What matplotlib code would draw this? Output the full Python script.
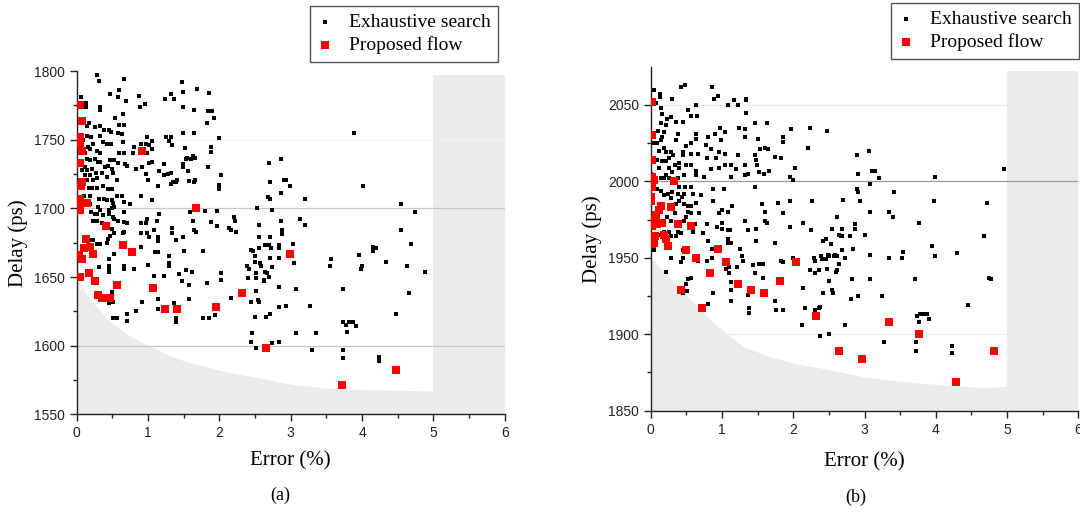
import matplotlib
matplotlib.use("Agg")
import matplotlib.pyplot as plt
import numpy as np

# ---------------- data ----------------
# panel (a)
exh_a = [
    (0.28, 1797), (0.31, 1793), (0.67, 1794), (0.60, 1786), (0.47, 1783), (0.33, 1774), (0.33, 1772),
    (0.06, 1781), (0.13, 1777), (0.13, 1774), (0.54, 1766), (0.65, 1769), (0.67, 1761), (0.59, 1761),
    (0.88, 1782), (0.96, 1776), (0.89, 1774), (0.69, 1778), (0.58, 1781), (1.24, 1780), (1.32, 1783),
    (1.37, 1780), (1.48, 1792), (1.49, 1785), (1.69, 1787), (1.86, 1784), (1.65, 1772), (1.49, 1774),
    (1.82, 1762), (1.93, 1766), (1.84, 1771), (1.89, 1771),
    (0.17, 1762), (0.15, 1760), (0.25, 1759), (0.32, 1760), (0.38, 1757), (0.45, 1757), (0.48, 1756),
    (0.33, 1753), (0.15, 1753), (0.20, 1752), (0.09, 1750), (0.23, 1747), (0.37, 1748), (0.42, 1747),
    (0.48, 1747), (0.58, 1755), (0.63, 1754), (0.65, 1748), (0.16, 1745), (0.18, 1743), (0.29, 1742),
    (0.32, 1740), (0.11, 1740), (0.60, 1740), (0.66, 1740), (0.47, 1735), (0.53, 1735), (0.58, 1733),
    (0.68, 1732), (0.70, 1731), (0.14, 1736), (0.18, 1735), (0.25, 1736), (0.30, 1734), (0.33, 1734),
    (0.39, 1730), (0.44, 1731), (0.11, 1730), (0.08, 1728), (0.15, 1728), (0.22, 1729), (0.27, 1726),
    (0.36, 1726), (0.49, 1729), (0.51, 1726), (0.11, 1724), (0.18, 1724), (0.14, 1721), (0.23, 1721),
    (0.29, 1722), (0.42, 1723), (0.56, 1721), (0.17, 1715), (0.21, 1715), (0.28, 1715), (0.37, 1716),
    (0.44, 1714), (0.49, 1714), (0.10, 1709), (0.18, 1709), (0.31, 1707), (0.38, 1707), (0.43, 1706),
    (0.49, 1706), (0.51, 1704), (0.57, 1709), (0.63, 1709), (0.67, 1705), (0.75, 1703), (0.18, 1703),
    (0.30, 1701), (0.32, 1699), (0.45, 1699), (0.50, 1700), (0.52, 1701), (0.20, 1697), (0.25, 1696),
    (0.29, 1696), (0.37, 1695), (0.46, 1696), (0.51, 1694), (0.66, 1697), (0.53, 1692), (0.58, 1691),
    (0.67, 1690), (0.71, 1689), (0.23, 1691), (0.29, 1691), (0.36, 1689), (0.49, 1685), (0.53, 1682),
    (0.66, 1683), (0.65, 1682), (0.47, 1680), (0.20, 1677), (0.23, 1677), (0.44, 1678), (0.42, 1675),
    (0.28, 1674), (0.32, 1674), (0.53, 1667), (0.46, 1663), (0.46, 1658), (0.46, 1656), (0.45, 1654),
    (0.31, 1657), (0.67, 1658), (0.67, 1656), (0.81, 1656), (0.49, 1639), (0.51, 1632), (0.46, 1631),
    (0.51, 1620), (0.56, 1620), (0.70, 1623), (0.71, 1618), (0.83, 1625),
    (0.90, 1747), (0.97, 1747), (1.01, 1746), (1.05, 1743), (0.98, 1752), (1.05, 1749), (0.92, 1740),
    (0.98, 1740), (0.81, 1745), (0.79, 1740), (0.83, 1729), (0.91, 1730), (1.01, 1733), (1.06, 1734),
    (0.97, 1725), (1.00, 1721), (1.22, 1732), (1.15, 1727), (1.14, 1716), (1.23, 1724), (1.28, 1725),
    (1.32, 1726), (1.32, 1718), (1.35, 1719), (1.25, 1752), (1.32, 1752), (1.30, 1749), (1.34, 1746),
    (1.49, 1755), (1.52, 1744), (1.49, 1732), (1.49, 1730), (1.53, 1736), (1.55, 1737), (1.60, 1736),
    (1.63, 1738), (1.66, 1737), (1.56, 1727), (1.66, 1721), (1.57, 1720), (1.65, 1719), (1.41, 1721),
    (1.39, 1719), (1.65, 1755), (1.84, 1730), (1.88, 1745), (1.88, 1741), (1.99, 1751), (2.03, 1724),
    (2.00, 1717), (2.00, 1714), (1.05, 1706), (0.90, 1709), (0.98, 1692), (0.97, 1689), (0.98, 1682),
    (0.90, 1682), (0.90, 1689), (1.01, 1679), (1.09, 1684), (1.13, 1691), (1.15, 1696), (1.14, 1679),
    (1.14, 1676), (1.10, 1668), (1.14, 1668), (0.90, 1672), (1.00, 1659), (1.08, 1651), (1.34, 1686),
    (1.34, 1682), (1.39, 1677), (1.49, 1679), (1.50, 1669), (1.29, 1665), (1.30, 1660), (1.30, 1658),
    (1.23, 1651), (1.44, 1652), (1.47, 1647), (1.53, 1655), (1.61, 1654), (1.59, 1697), (1.63, 1691),
    (1.65, 1684), (1.67, 1683), (1.77, 1669), (1.80, 1698), (1.88, 1690), (1.97, 1698), (1.97, 1687),
    (1.58, 1644), (1.57, 1634), (1.14, 1634), (1.14, 1627), (1.37, 1631), (1.39, 1620), (1.39, 1617),
    (1.77, 1620), (1.86, 1620), (1.82, 1646), (1.94, 1622), (2.02, 1653), (2.03, 1648), (0.91, 1632),
    (2.21, 1694), (2.22, 1691), (2.24, 1683), (2.14, 1686), (2.16, 1684), (2.17, 1635), (2.53, 1700),
    (2.55, 1688), (2.55, 1679), (2.69, 1733), (2.71, 1719), (2.68, 1708), (2.71, 1707), (2.74, 1699),
    (2.87, 1736), (2.87, 1711), (2.91, 1721), (2.93, 1721), (2.99, 1716), (3.20, 1707), (3.13, 1692),
    (3.20, 1688), (3.03, 1674), (3.05, 1660), (3.08, 1641), (3.08, 1609), (3.27, 1629), (3.30, 1597),
    (2.86, 1691), (2.88, 1684), (2.88, 1681), (2.84, 1673), (2.84, 1671), (2.84, 1664), (2.71, 1679),
    (2.69, 1673), (2.64, 1673), (2.72, 1671), (2.71, 1664), (2.74, 1657), (2.56, 1671), (2.47, 1669),
    (2.44, 1670), (2.50, 1665), (2.50, 1661), (2.57, 1660), (2.59, 1658), (2.39, 1658), (2.42, 1656),
    (2.52, 1653), (2.64, 1654), (2.67, 1653), (2.40, 1649), (2.52, 1649), (2.62, 1648), (2.69, 1650),
    (2.62, 1647), (2.84, 1643), (2.52, 1640), (2.54, 1633), (2.56, 1632), (2.44, 1632), (2.50, 1621),
    (2.66, 1621), (2.71, 1623), (2.83, 1628), (2.93, 1629), (2.46, 1609), (2.44, 1603), (2.52, 1598),
    (2.74, 1602), (2.84, 1603), (3.73, 1641), (3.36, 1609), (3.56, 1663), (3.55, 1658), (3.96, 1666),
    (4.00, 1658), (3.99, 1656), (3.89, 1755), (4.02, 1716), (4.15, 1672), (4.19, 1671), (4.16, 1669),
    (4.33, 1661), (4.54, 1703), (4.55, 1684), (4.68, 1674), (4.74, 1697), (4.63, 1658), (4.66, 1638),
    (4.88, 1654), (4.47, 1623), (3.74, 1617), (3.78, 1615), (3.82, 1617), (3.88, 1617), (3.79, 1610),
    (3.92, 1614), (3.73, 1597), (3.73, 1591), (4.24, 1592), (4.24, 1589),
]
prop_a = [
    (0.05, 1775), (0.08, 1764), (0.05, 1752), (0.04, 1747), (0.07, 1742), (0.04, 1733), (0.07, 1719),
    (0.06, 1716), (0.04, 1707), (0.04, 1703), (0.04, 1699), (0.14, 1704), (0.91, 1742), (1.67, 1700),
    (0.41, 1687), (0.13, 1678), (0.10, 1671), (0.19, 1672), (0.23, 1667), (0.03, 1666), (0.08, 1663),
    (0.05, 1650), (0.17, 1653), (0.26, 1647), (0.30, 1637), (0.35, 1635), (0.47, 1635), (0.56, 1644),
    (0.65, 1673), (0.78, 1668), (1.07, 1642), (1.24, 1627), (1.40, 1627), (1.95, 1628), (2.32, 1638),
    (2.65, 1598), (2.99, 1667), (3.72, 1571), (4.48, 1582),
]
bound_a_x = [0, 0.05, 0.1, 0.25, 0.5, 0.75, 1.0, 1.25, 1.5, 2.0, 2.5, 3.0, 3.5, 4.0, 4.5, 5.0]
bound_a_y = [1650, 1645, 1640, 1630, 1616, 1607, 1600, 1594, 1589, 1582, 1577, 1572, 1569, 1568,
             1567.5, 1567]

# panel (b)
exh_b = [
    (0.05, 2060), (0.13, 2057), (0.13, 2055), (0.08, 2051), (0.15, 2048), (0.16, 2044), (0.30, 2054),
    (0.43, 2062), (0.48, 2063), (0.52, 2047), (0.57, 2043), (0.64, 2050), (0.65, 2043), (0.86, 2062),
    (0.89, 2054), (0.95, 2056), (1.09, 2050), (1.17, 2053), (1.23, 2050), (1.33, 2054), (1.34, 2053),
    (1.33, 2045), (1.24, 2035), (1.32, 2034), (1.32, 2029), (1.46, 2038), (1.63, 2038), (1.97, 2034),
    (2.23, 2035), (2.47, 2033), (1.85, 2029), (1.85, 2026), (2.20, 2022), (1.50, 2028), (1.53, 2021),
    (1.61, 2022), (1.64, 2021), (1.75, 2016), (1.83, 2015), (1.46, 2017), (1.48, 2014), (1.49, 2011),
    (1.52, 2006), (1.59, 2005), (1.66, 2007), (1.37, 2005), (1.32, 2004), (1.32, 2011), (1.23, 2017),
    (1.19, 2008), (1.13, 2011), (1.13, 2003), (1.04, 2011), (1.04, 2018), (0.96, 2019), (0.98, 2027),
    (0.97, 2035), (1.04, 2032), (0.90, 2031), (0.80, 2029), (0.77, 2024), (0.84, 2021), (0.79, 2015),
    (0.91, 2015), (0.96, 2009), (0.85, 2008), (0.75, 2003), (0.64, 2031), (0.64, 2028), (0.57, 2025),
    (0.67, 2018), (0.57, 2018), (0.57, 2011), (0.64, 2007), (0.63, 2004), (0.50, 2023), (0.45, 2019),
    (0.46, 2017), (0.50, 2011), (0.47, 2004), (0.40, 2012), (0.40, 2009), (0.35, 2027), (0.39, 2031),
    (0.45, 2039), (0.35, 2039), (0.28, 2042), (0.23, 2041), (0.21, 2037), (0.14, 2038), (0.10, 2033),
    (0.05, 2031), (0.19, 2032), (0.16, 2029), (0.14, 2027), (0.09, 2025), (0.18, 2022), (0.12, 2020),
    (0.22, 2019), (0.28, 2019), (0.31, 2017), (0.26, 2015), (0.09, 2014), (0.16, 2013), (0.21, 2013),
    (0.11, 2009), (0.26, 2009), (0.34, 2011), (0.30, 2006), (0.21, 2004), (0.14, 2002), (0.18, 2002),
    (0.26, 2002), (0.38, 2002), (0.01, 2005), (0.03, 2025),
    (0.09, 1995), (0.14, 1994), (0.18, 1991), (0.24, 1992), (0.30, 1993), (0.40, 1996), (0.48, 1996),
    (0.57, 1996), (0.38, 1992), (0.47, 1992), (0.59, 1992), (0.28, 1989), (0.44, 1990), (0.40, 1987),
    (0.35, 1985), (0.47, 1985), (0.52, 1984), (0.57, 1984), (0.64, 1986), (0.71, 1991), (0.53, 1980),
    (0.50, 1977), (0.57, 1979), (0.68, 1979), (0.34, 1979), (0.23, 1977), (0.28, 1974), (0.47, 1974),
    (0.62, 1972), (0.59, 1967), (0.39, 1967), (0.43, 1966), (0.35, 1964), (0.28, 1964), (0.26, 1967),
    (0.18, 1967), (0.14, 1965), (0.06, 1960), (0.04, 1955), (0.29, 1950), (0.22, 1941), (0.45, 1955),
    (0.43, 1947), (0.46, 1950), (0.45, 1927), (0.52, 1936), (0.56, 1937), (0.50, 1933), (0.51, 1928),
    (0.66, 1948), (0.79, 1948), (0.86, 1950), (0.88, 1927), (0.81, 1920), (0.74, 1966), (0.79, 1972),
    (0.81, 1961), (0.86, 1956), (0.87, 1995), (0.87, 1987), (0.96, 1979), (1.00, 1981), (0.93, 1970),
    (1.00, 1973), (1.03, 1995), (1.00, 1969), (1.08, 1968), (1.11, 1968), (1.09, 1960), (1.12, 1960),
    (1.08, 1962), (1.08, 1980), (1.14, 1984), (1.10, 1944), (1.10, 1940), (1.12, 1934), (1.12, 1929),
    (1.12, 1922), (1.05, 1943), (1.25, 1956), (1.28, 1951), (1.30, 1948), (1.32, 1974), (1.37, 1968),
    (1.21, 1944), (1.37, 1926), (1.38, 1917), (1.38, 1914), (1.44, 1945), (1.47, 1940), (1.48, 1961),
    (1.48, 1969), (1.46, 1996), (1.52, 1946), (1.57, 1937), (1.56, 1928), (1.56, 1985), (1.61, 1980),
    (1.61, 1974), (1.63, 1973), (1.58, 1946), (1.78, 1986), (1.85, 1979), (1.75, 1960), (1.83, 1948),
    (1.86, 1947), (1.75, 1922), (1.76, 1916), (1.85, 1916), (1.96, 1987), (1.96, 2003), (2.00, 2001),
    (2.02, 2009), (1.96, 1970), (2.00, 1950), (2.14, 1973), (2.25, 1968), (2.26, 1987), (2.14, 1930),
    (2.16, 1917), (2.12, 1906), (2.23, 1942), (2.29, 1950), (2.31, 1948), (2.31, 1940), (2.36, 1942),
    (2.39, 1951), (2.41, 1949), (2.42, 1961), (2.46, 1962), (2.48, 1943), (2.46, 1949), (2.49, 1952),
    (2.50, 1951), (2.53, 1959), (2.54, 1969), (2.57, 1951), (2.58, 1952), (2.61, 1951), (2.62, 1977),
    (2.69, 1969), (2.67, 1964), (2.64, 1965), (2.69, 1964), (2.69, 1955), (2.72, 1950), (2.64, 1946),
    (2.62, 1942), (2.60, 1941), (2.50, 1935), (2.54, 1929), (2.56, 1927), (2.42, 1927), (2.38, 1918),
    (2.36, 1917), (2.31, 1916), (2.38, 1899), (2.50, 1900), (2.70, 1988), (2.80, 1964), (2.84, 1956),
    (2.82, 1936), (2.81, 1923), (2.91, 1925), (2.72, 1906), (2.86, 1969), (2.86, 1972), (2.89, 1995),
    (2.91, 1993), (2.94, 1987), (3.07, 1980), (3.01, 1965), (3.07, 1952), (3.07, 1936), (2.91, 2005),
    (3.08, 1998), (3.11, 2007), (3.15, 2007), (3.20, 2002), (3.06, 2020), (2.89, 2017), (3.34, 1980),
    (3.40, 1977), (3.41, 1993), (3.34, 1950), (3.52, 1950), (3.54, 1954), (3.24, 1925), (3.28, 1895),
    (3.71, 1936), (3.77, 1973), (3.97, 1987), (3.99, 2003), (3.94, 1958), (3.99, 1951), (4.45, 1919),
    (4.30, 1953), (4.68, 1964), (4.72, 1986), (4.75, 1937), (4.77, 1936), (4.95, 2008), (3.73, 1912),
    (3.78, 1913), (3.83, 1913), (3.88, 1913), (3.90, 1910), (3.77, 1908), (3.72, 1895), (3.72, 1889),
    (4.22, 1892), (4.22, 1888),
]
prop_b = [
    (0.02, 2052), (0.02, 2030), (0.02, 2014), (0.02, 2003), (0.04, 2001), (0.33, 2000), (0.02, 1996),
    (0.01, 1990), (0.01, 1987), (0.14, 1984), (0.11, 1981), (0.28, 1983), (0.08, 1978), (0.04, 1975),
    (0.02, 1971), (0.09, 1972), (0.16, 1973), (0.38, 1972), (0.56, 1971), (0.06, 1964), (0.18, 1965),
    (0.22, 1962), (0.24, 1958), (0.02, 1959), (0.05, 1960), (0.50, 1955), (0.63, 1950), (0.94, 1956),
    (1.06, 1947), (2.04, 1947), (0.83, 1940), (0.43, 1929), (1.23, 1933), (1.41, 1929), (1.59, 1927),
    (1.82, 1935), (0.72, 1917), (2.32, 1912), (3.35, 1908), (3.77, 1900), (2.64, 1889), (2.96, 1884),
    (4.82, 1889), (4.29, 1869),
]
bound_b_x = [0, 0.05, 0.1, 0.23, 0.4, 0.57, 0.8, 1.05, 1.3, 1.63, 2.0, 2.5, 3.0, 3.66, 4.2, 4.7, 5.0]
bound_b_y = [1952, 1948, 1945, 1939, 1931, 1922, 1911, 1901, 1892, 1886, 1881, 1877, 1872, 1868.5,
             1866.5, 1865, 1866]

SERIF = "Liberation Serif"
SANS = "Liberation Sans"
GRAY = "#ebebeb"


def draw_panel(ax, exh, prop, bx, by, ylim, yticks, rect_top, grid_lines, letter, letter_xy, xpad):
    ymin, ymax = ylim
    # infeasible regions
    ax.fill_between(bx, ymin, by, color=GRAY, lw=0, zorder=0)
    ax.fill_between([5, 6], ymin, rect_top, color=GRAY, lw=0, zorder=0)
    for yv, col in grid_lines:
        ax.axhline(yv, color=col, lw=0.9, zorder=0.5)

    e = np.array(exh)
    p = np.array(prop)
    ax.scatter(e[:, 0], e[:, 1], s=6, marker="s", color="black", lw=0, zorder=2,
               label="Exhaustive search")
    ax.scatter(p[:, 0], p[:, 1], s=30, marker="s", color="#ff0000", lw=0, zorder=3,
               label="Proposed flow")

    ax.set_xlim(0, 6)
    ax.set_ylim(ymin, ymax)
    ax.set_xticks(range(7))
    ax.set_xticks(np.arange(0.5, 6, 1), minor=True)
    ax.set_yticks(yticks)
    ax.set_yticks(np.array(yticks[:-1]) + 25, minor=True)
    for s in ["top", "right"]:
        ax.spines[s].set_visible(False)
    for s in ["left", "bottom"]:
        ax.spines[s].set_linewidth(1.0)
        ax.spines[s].set_color("#222222")
    ax.tick_params(which="major", direction="out", length=5, width=1, labelsize=10,
                   colors="#222222")
    ax.tick_params(which="minor", direction="out", length=3, width=1, colors="#222222")
    for lab in ax.get_xticklabels() + ax.get_yticklabels():
        lab.set_fontfamily(SANS)
    ax.set_xlabel("Error (%)", fontfamily=SERIF, fontsize=15, labelpad=xpad)
    ax.set_ylabel("Delay (ps)", fontfamily=SERIF, fontsize=15, va="center")
    ax.yaxis.set_label_coords(-0.137, 0.5)
    ax.text(letter_xy[0], letter_xy[1], letter, transform=ax.transAxes, ha="center",
            va="center", fontfamily=SERIF, fontsize=13)


fig = plt.figure(figsize=(10.8, 5.13), dpi=100)
ax_a = fig.add_axes([0.0710, 0.1924, 0.3963, 0.669])
ax_b = fig.add_axes([0.6025, 0.1994, 0.3960, 0.6706])

draw_panel(ax_a, exh_a, prop_a, bound_a_x, bound_a_y, (1550, 1800),
           [1550, 1600, 1650, 1700, 1750, 1800], 1797,
           [(1600, "#c8c8c8"), (1700, "#c8c8c8"), (1750, "#f2f2f2")], "(a)", (0.475, -0.235), 8)
draw_panel(ax_b, exh_b, prop_b, bound_b_x, bound_b_y, (1850, 2075),
           [1850, 1900, 1950, 2000, 2050], 2072,
           [(1900, "#f0f0f0"), (2000, "#9a9a9a"), (2050, "#eeeeee")], "(b)", (0.48, -0.252), 11)

for ax, x0, y0 in [(ax_a, 310, 6), (ax_b, 891, 3)]:
    leg = ax.legend(loc="upper left", bbox_to_anchor=(x0 / 1080, 1 - y0 / 513),
                    bbox_transform=fig.transFigure, frameon=True, fancybox=False,
                    edgecolor="#555555", framealpha=1, handlelength=0.7, handletextpad=0.9,
                    borderpad=0.4, labelspacing=0.25, borderaxespad=0,
                    prop={"family": SERIF, "size": 14})
    leg.get_frame().set_linewidth(1.0)

fig.savefig("out.png", dpi=100)
